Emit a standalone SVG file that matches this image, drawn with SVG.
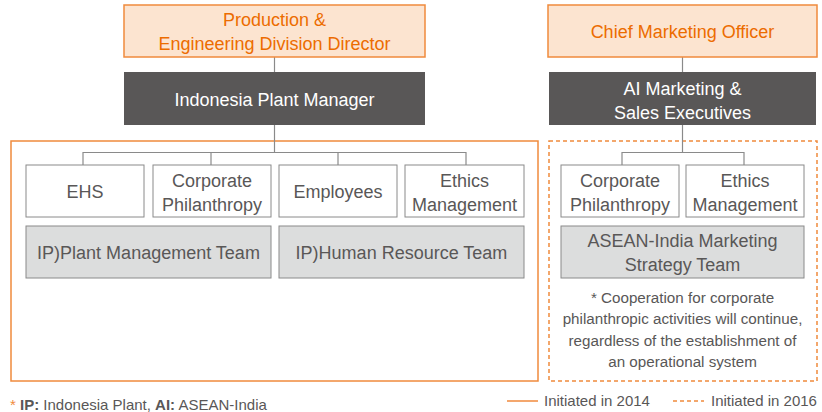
<svg xmlns="http://www.w3.org/2000/svg" width="822" height="412" viewBox="0 0 822 412">
<style>
text{font-family:"Liberation Sans",Arial,sans-serif;font-size:18px;text-anchor:middle}
.head rect{fill:#fce4d0;stroke:#f08a3c;stroke-width:1.5}
.head text{fill:#ec6c00}
.dark rect{fill:#595757;stroke:none}
.dark text{fill:#ffffff}
.wbox rect{fill:#ffffff;stroke:#8a8a8a;stroke-width:1}
.wbox text{fill:#595757}
.gbox rect{fill:#dcdddd;stroke:#8a8a8a;stroke-width:1}
.gbox text{fill:#595757}
.conn line{stroke:#8a8a8a;stroke-width:1.2;fill:none}
.note{fill:#595757;font-size:15.2px}
.leg{fill:#595757;font-size:15px;text-anchor:start}
</style>
<rect id="group2014" x="11" y="141" width="527" height="240" fill="none" stroke="#f08a3c" stroke-width="1.5"/>
<rect id="group2016" x="549" y="141" width="268" height="240" fill="none" stroke="#f08a3c" stroke-width="1.5" stroke-dasharray="4 3"/>
<g class="conn" id="connectors">
<line x1="274.5" y1="57" x2="274.5" y2="72"/>
<line x1="274.5" y1="125" x2="274.5" y2="152.5"/>
<line x1="83" y1="152.5" x2="466" y2="152.5"/>
<line x1="83" y1="152" x2="83" y2="165"/>
<line x1="211" y1="152" x2="211" y2="165"/>
<line x1="338" y1="152" x2="338" y2="165"/>
<line x1="466" y1="152" x2="466" y2="165"/>
<line x1="682.5" y1="57" x2="682.5" y2="72"/>
<line x1="682.5" y1="125" x2="682.5" y2="152.5"/>
<line x1="622" y1="152.5" x2="744" y2="152.5"/>
<line x1="622" y1="152" x2="622" y2="165"/>
<line x1="744" y1="152" x2="744" y2="165"/>
</g>
<g id="n_prod" class="head"><rect x="124" y="5" width="301" height="52"/><text x="274.5" y="25.5">Production &amp;</text><text x="274.5" y="49.5">Engineering Division Director</text></g>
<g id="n_cmo" class="head"><rect x="548" y="5" width="269" height="52"/><text x="682.5" y="37.5">Chief Marketing Officer</text></g>
<g id="n_ipm" class="dark"><rect x="124" y="72" width="301" height="53"/><text x="274.5" y="105.5">Indonesia Plant Manager</text></g>
<g id="n_aim" class="dark"><rect x="549" y="72" width="267" height="53"/><text x="682.5" y="95">AI Marketing &amp;</text><text x="682.5" y="119">Sales Executives</text></g>
<g id="n_ehs" class="wbox"><rect x="26" y="165" width="118" height="52"/><text x="85" y="198">EHS</text></g>
<g id="n_cp1" class="wbox"><rect x="153" y="165" width="118" height="52"/><text x="212" y="186.5">Corporate</text><text x="212" y="210.5">Philanthropy</text></g>
<g id="n_emp" class="wbox"><rect x="279" y="165" width="118" height="52"/><text x="338" y="198">Employees</text></g>
<g id="n_eth1" class="wbox"><rect x="405" y="165" width="119" height="52"/><text x="464.5" y="186.5">Ethics</text><text x="464.5" y="210.5">Management</text></g>
<g id="n_pmt" class="gbox"><rect x="26" y="226" width="245" height="52"/><text x="148.5" y="259">IP)Plant Management Team</text></g>
<g id="n_hrt" class="gbox"><rect x="279" y="226" width="245" height="52"/><text x="401.5" y="259">IP)Human Resource Team</text></g>
<g id="n_cp2" class="wbox"><rect x="561" y="165" width="118" height="52"/><text x="620" y="186.5">Corporate</text><text x="620" y="210.5">Philanthropy</text></g>
<g id="n_eth2" class="wbox"><rect x="686" y="165" width="118" height="52"/><text x="745" y="186.5">Ethics</text><text x="745" y="210.5">Management</text></g>
<g id="n_ams" class="gbox"><rect x="561" y="226" width="243" height="52"/><text x="682.5" y="246.5">ASEAN-India Marketing</text><text x="682.5" y="270.5">Strategy Team</text></g>
<g id="note">
<text class="note" x="682.5" y="303">* Cooperation for corporate</text>
<text class="note" x="682.5" y="324">philanthropic activities will continue,</text>
<text class="note" x="682.5" y="346">regardless of the establishment of</text>
<text class="note" x="682.5" y="367">an operational system</text>
</g>
<g id="legend">
<line x1="507" y1="401" x2="538" y2="401" stroke="#f08a3c" stroke-width="1.5"/>
<text class="leg" x="544" y="406">Initiated in 2014</text>
<line x1="673" y1="401" x2="704" y2="401" stroke="#f08a3c" stroke-width="1.5" stroke-dasharray="4 3"/>
<text class="leg" x="711" y="406">Initiated in 2016</text>
</g>
<g id="footnote">
<text class="leg" x="10" y="410"><tspan fill="#f08a3c">*</tspan> <tspan font-weight="bold">IP:</tspan> Indonesia Plant, <tspan font-weight="bold">AI:</tspan> ASEAN-India</text>
</g>
</svg>
